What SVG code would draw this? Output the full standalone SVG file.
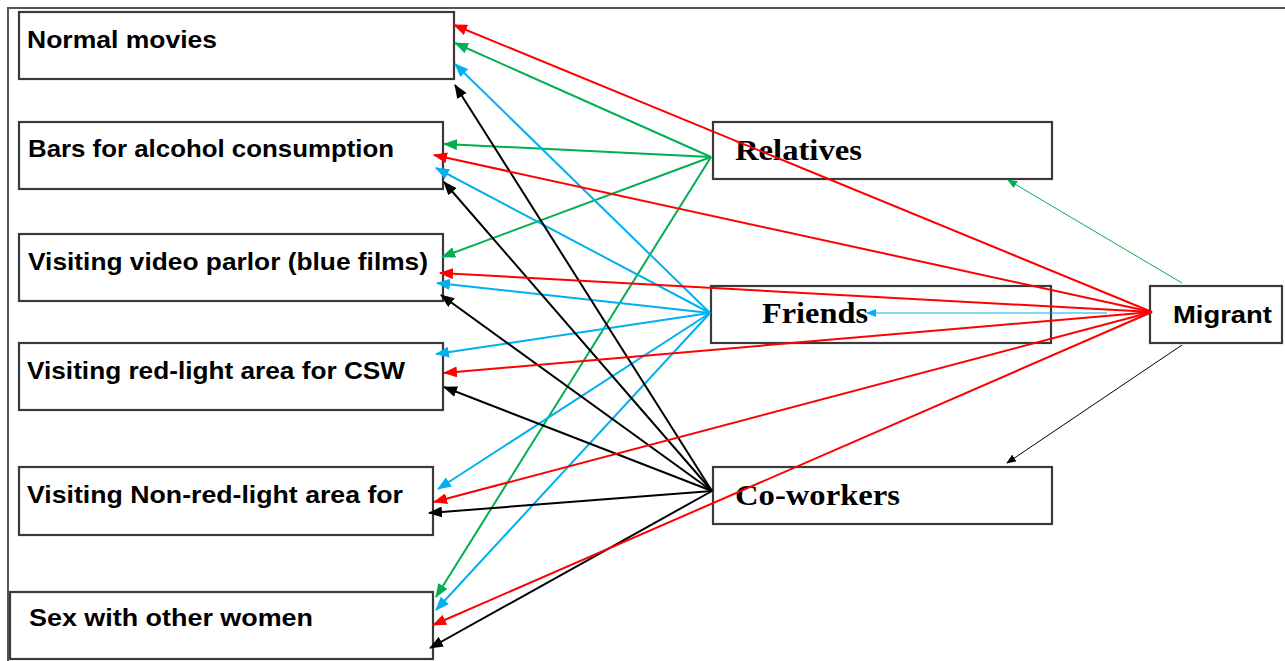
<svg xmlns="http://www.w3.org/2000/svg" width="1285" height="661" viewBox="0 0 1285 661">
<style>
.box{fill:#fff;stroke:#3a3a3a;stroke-width:2.2}
.lt{font-family:"Liberation Sans",Arial,sans-serif;font-weight:bold;font-size:24px;fill:#000}
.rt{font-family:"Liberation Serif","Times New Roman",serif;font-weight:bold;font-size:30px;fill:#000}
.c{fill:none;stroke-width:2}
.t{fill:none;stroke-width:1}
.red{stroke:#ff0000}
.grn{stroke:#00b050}
.blu{stroke:#00b0f0}
.blk{stroke:#000}
</style>
<defs>
<marker id="aR" markerUnits="userSpaceOnUse" markerWidth="14" markerHeight="11" refX="13" refY="5.5" orient="auto"><path d="M0,0 L14,5.5 L0,11 Z" fill="#ff0000"/></marker>
<marker id="aG" markerUnits="userSpaceOnUse" markerWidth="14" markerHeight="11" refX="13" refY="5.5" orient="auto"><path d="M0,0 L14,5.5 L0,11 Z" fill="#00b050"/></marker>
<marker id="aB" markerUnits="userSpaceOnUse" markerWidth="14" markerHeight="11" refX="13" refY="5.5" orient="auto"><path d="M0,0 L14,5.5 L0,11 Z" fill="#00b0f0"/></marker>
<marker id="aK" markerUnits="userSpaceOnUse" markerWidth="14" markerHeight="11" refX="13" refY="5.5" orient="auto"><path d="M0,0 L14,5.5 L0,11 Z" fill="#000"/></marker>
<marker id="sG" markerUnits="userSpaceOnUse" markerWidth="10" markerHeight="8" refX="9" refY="4" orient="auto"><path d="M0,0 L10,4 L0,8 Z" fill="#00b050"/></marker>
<marker id="sB" markerUnits="userSpaceOnUse" markerWidth="10" markerHeight="8" refX="9" refY="4" orient="auto"><path d="M0,0 L10,4 L0,8 Z" fill="#00b0f0"/></marker>
<marker id="sK" markerUnits="userSpaceOnUse" markerWidth="10" markerHeight="8" refX="9" refY="4" orient="auto"><path d="M0,0 L10,4 L0,8 Z" fill="#000"/></marker>
</defs>
<rect width="1285" height="661" fill="#fff"/>
<path d="M8,661 V8 H1285" fill="none" stroke="#555" stroke-width="2"/>

<g id="n-normal"><rect class="box" x="19" y="12" width="435" height="67"/><text class="lt" x="27" y="48" textLength="190" lengthAdjust="spacingAndGlyphs">Normal movies</text></g>
<g id="n-bars"><rect class="box" x="19" y="122" width="424" height="67"/><text class="lt" x="28" y="157" textLength="366" lengthAdjust="spacingAndGlyphs">Bars for alcohol consumption</text></g>
<g id="n-video"><rect class="box" x="19" y="234" width="424" height="67"/><text class="lt" x="28" y="270" textLength="400" lengthAdjust="spacingAndGlyphs">Visiting video parlor (blue films)</text></g>
<g id="n-redlight"><rect class="box" x="19" y="343" width="424" height="67"/><text class="lt" x="27" y="379" textLength="378" lengthAdjust="spacingAndGlyphs">Visiting red-light area for CSW</text></g>
<g id="n-nonred"><rect class="box" x="19" y="467" width="414" height="68"/><text class="lt" x="27" y="503" textLength="376" lengthAdjust="spacingAndGlyphs">Visiting Non-red-light area for</text></g>
<g id="n-sex"><rect class="box" x="10" y="592" width="423" height="67"/><text class="lt" x="29" y="626" textLength="284" lengthAdjust="spacingAndGlyphs">Sex with other women</text></g>

<g id="n-relatives"><rect class="box" x="713" y="122" width="339" height="57"/><text class="rt" x="735" y="160" textLength="127" lengthAdjust="spacingAndGlyphs">Relatives</text></g>
<g id="n-friends"><rect class="box" x="711" y="286" width="340" height="57"/><text class="rt" x="762" y="323" textLength="106" lengthAdjust="spacingAndGlyphs">Friends</text></g>
<g id="n-coworkers"><rect class="box" x="713" y="467" width="339" height="57"/><text class="rt" x="735" y="505" textLength="165" lengthAdjust="spacingAndGlyphs">Co-workers</text></g>
<g id="n-migrant"><rect class="box" x="1150" y="286" width="132" height="57"/><text class="lt" x="1173" y="323" textLength="99" lengthAdjust="spacingAndGlyphs">Migrant</text></g>

<g id="connectors">
<g class="c grn" marker-end="url(#aG)">
<line x1="711" y1="157" x2="455" y2="43"/>
<line x1="711" y1="157" x2="444" y2="144"/>
<line x1="711" y1="157" x2="442" y2="257"/>
<line x1="711" y1="157" x2="436" y2="597"/>
</g>
<g class="c blu" marker-end="url(#aB)">
<line x1="710" y1="313" x2="455" y2="64"/>
<line x1="710" y1="313" x2="436" y2="168"/>
<line x1="710" y1="313" x2="437" y2="283"/>
<line x1="710" y1="313" x2="436" y2="354"/>
<line x1="710" y1="313" x2="438" y2="489"/>
<line x1="710" y1="313" x2="436" y2="610"/>
</g>
<g class="c blk" marker-end="url(#aK)">
<line x1="712" y1="491" x2="455" y2="85"/>
<line x1="712" y1="491" x2="444" y2="182"/>
<line x1="712" y1="491" x2="441" y2="295"/>
<line x1="712" y1="491" x2="444" y2="387"/>
<line x1="712" y1="491" x2="429" y2="513"/>
<line x1="712" y1="491" x2="430" y2="648"/>
</g>
<g class="c red" marker-end="url(#aR)">
<line x1="1152" y1="312" x2="454" y2="25"/>
<line x1="1152" y1="312" x2="434" y2="155"/>
<line x1="1152" y1="312" x2="440" y2="273"/>
<line x1="1152" y1="312" x2="444" y2="373"/>
<line x1="1152" y1="312" x2="434" y2="502"/>
<line x1="1152" y1="312" x2="433" y2="625"/>
</g>
<line class="t grn" x1="1182" y1="283" x2="1008" y2="180" marker-end="url(#sG)"/>
<line class="t blu" x1="1107" y1="313" x2="867" y2="313" marker-end="url(#sB)"/>
<line class="t blk" x1="1182" y1="345" x2="1007" y2="463" marker-end="url(#sK)"/>
</g>
</svg>
